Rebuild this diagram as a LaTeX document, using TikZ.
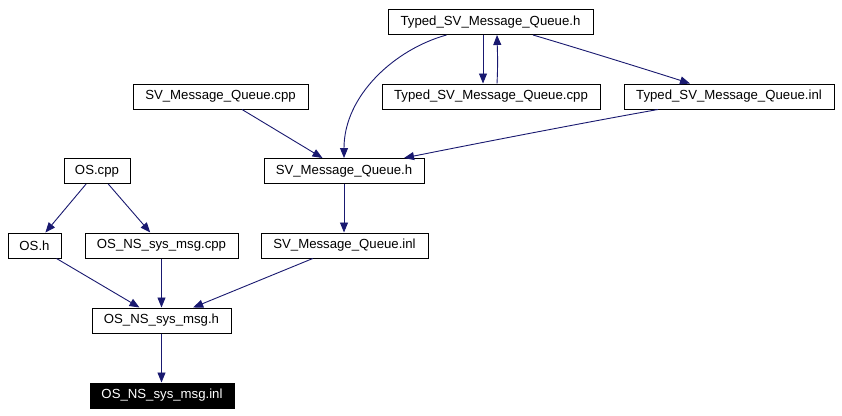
\documentclass[tikz,border=0pt]{standalone}
\usepackage{fontspec}
\setmainfont{Liberation Sans}
\usetikzlibrary{arrows.meta,calc}
\definecolor{edgecol}{HTML}{191970}
\begin{document}
\begin{tikzpicture}[x=1pt,y=-1pt,
  file/.style={draw=black, line width=1pt, rectangle, minimum height=25pt, inner sep=0pt,
    font=\fontsize{13.2}{15}\selectfont},
  cur/.style={file, fill=black, text=white},
  dep/.style={draw=edgecol, line width=0.9pt, -{Triangle[length=10pt,width=8pt]}}]
\useasboundingbox (0,0) rectangle (842,415);
\fill[white] (0,0) rectangle (842,415);
\node[file, minimum width=205pt] (th) at (490.5,22) {Typed\_SV\_Message\_Queue.h};
\node[file, minimum width=218pt] (tc) at (491,96.5) {Typed\_SV\_Message\_Queue.cpp};
\node[file, minimum width=210pt] (ti) at (729,96.5) {Typed\_SV\_Message\_Queue.inl};
\node[file, minimum width=175pt] (sc) at (220.5,96.5) {SV\_Message\_Queue.cpp};
\node[file, minimum width=160pt] (sh) at (344,171) {SV\_Message\_Queue.h};
\node[file, minimum width=66pt] (oc) at (97,171) {OS.cpp};
\node[file, minimum width=53pt] (oh) at (34.5,245.5) {OS.h};
\node[file, minimum width=153pt] (nc) at (161.5,245.5) {OS\_NS\_sys\_msg.cpp};
\node[file, minimum width=167pt] (si) at (344.5,245.5) {SV\_Message\_Queue.inl};
\node[file, minimum width=139pt] (nh) at (161.5,320.5) {OS\_NS\_sys\_msg.h};
\node[cur, minimum width=144pt] (ni) at (162,395.5) {OS\_NS\_sys\_msg.inl};

\draw[dep] ($(th.south)+(-44,0)$) .. controls ($(th.south)+(-95,14)$) and ($(sh.north)+(0,-63)$) .. (sh.north);
\draw[dep] ($(th.south)+(-7.5,0)$) -- ($(tc.north)+(-8,0)$);
\draw[dep] ($(tc.north)+(6,0)$) .. controls ($(tc.north)+(7,-20)$) and ($(th.south)+(7,20)$) .. ($(th.south)+(6.5,0)$);
\draw[dep] ($(th.south)+(42.5,0)$) .. controls ($(th.south)+(90,14)$) and ($(ti.north)+(-70,-10)$) .. ($(ti.north)+(-39,0)$);
\draw[dep] ($(ti.south)+(-71,0)$) .. controls ($(ti.south)+(-150,14)$) and ($(sh.north)+(120,-12)$) .. ($(sh.north)+(60,0)$);
\draw[dep] (sc) -- (sh);
\draw[dep] (sh.south) -- (sh.south |- si.north);
\draw[dep] (oc) -- (oh);
\draw[dep] (oc) -- (nc);
\draw[dep] (oh) -- (nh);
\draw[dep] (nc.south) -- (nh.north);
\draw[dep] (si) -- (nh);
\draw[dep] (nh.south) -- (nh.south |- ni.north);
\end{tikzpicture}
\end{document}
